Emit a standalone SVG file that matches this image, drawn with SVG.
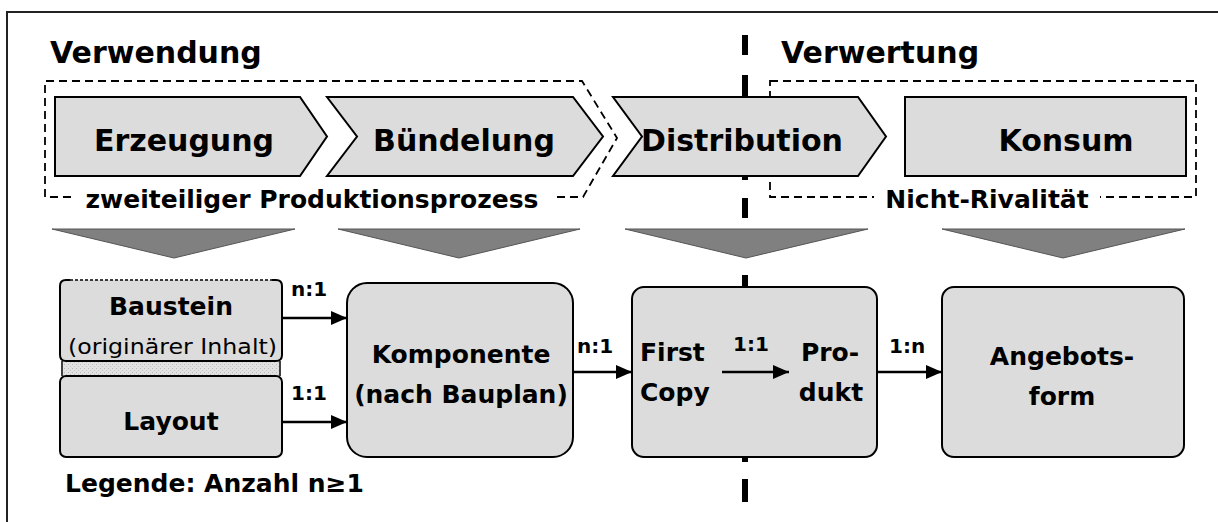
<svg xmlns="http://www.w3.org/2000/svg" width="1218" height="522" viewBox="0 0 1218 522">
<style>
  .t { font-family: "DejaVu Sans", Verdana, sans-serif; font-weight: bold; fill: #000; }
  .h { font-size: 30px; }
  .m { font-size: 25px; }
  .s { font-size: 20px; }
  .r { font-family: "DejaVu Sans", Verdana, sans-serif; font-weight: normal; font-size: 22px; fill: #000; }
  .proc { fill: #dcdcdc; stroke: #000; stroke-width: 2; }
  .box { fill: #dcdcdc; stroke: #000; stroke-width: 2; }
  .tri { fill: #808080; stroke: #555; stroke-width: 1; }
  .dash { fill: none; stroke: #000; stroke-width: 1.8; stroke-dasharray: 8 5; }
  .div { stroke: #000; stroke-width: 6; }
  .conn { stroke: #000; stroke-width: 2.4; fill: none; }
</style>
<defs>
  <marker id="ah" markerUnits="userSpaceOnUse" markerWidth="16" markerHeight="16" viewBox="0 0 16 16" refX="16" refY="8" orient="auto">
    <path d="M0,1 L16,8 L0,15 Z" fill="#000"/>
  </marker>
  <pattern id="speck" patternUnits="userSpaceOnUse" width="4" height="4">
    <rect width="4" height="4" fill="#e2e2e2"/>
    <rect x="0" y="0" width="1" height="1" fill="#b8b8b8"/>
    <rect x="2" y="2" width="1" height="1" fill="#c4c4c4"/>
  </pattern>
</defs>
<rect x="0" y="0" width="1218" height="522" fill="#fff"/>
<rect x="7" y="12" width="1240" height="540" fill="none" stroke="#222" stroke-width="2"/>

<g id="divider">
  <line class="div" x1="745" y1="35" x2="745" y2="55"/>
  <line class="div" x1="745" y1="75" x2="745" y2="100"/>
  <line class="div" x1="745" y1="172" x2="745" y2="180"/>
  <line class="div" x1="745" y1="198" x2="745" y2="218"/>
  <line class="div" x1="745" y1="275" x2="745" y2="290"/>
  <line class="div" x1="745" y1="454" x2="745" y2="462"/>
  <line class="div" x1="745" y1="479" x2="745" y2="502"/>
</g>

<text class="t h" x="50" y="63">Verwendung</text>
<text class="t h" x="781" y="63">Verwertung</text>

<g id="group-verwendung">
  <path class="dash" d="M45,197 V81 H582 L617,138 L583,197 Z"/>
  <rect x="72" y="186" width="482" height="28" fill="#fff"/>
  <text class="t m" x="312" y="208" text-anchor="middle">zweiteiliger Produktionsprozess</text>
</g>
<g id="group-verwertung">
  <rect class="dash" x="770" y="81" width="426" height="116"/>
  <rect x="874" y="186" width="226" height="28" fill="#fff"/>
  <text class="t m" x="987" y="208" text-anchor="middle">Nicht-Rivalität</text>
</g>

<g id="erzeugung">
  <path class="proc" d="M55,97 H300 L327,136.5 L300,176 H55 Z"/>
  <text class="t h" x="184" y="151" text-anchor="middle">Erzeugung</text>
</g>
<g id="buendelung">
  <path class="proc" d="M327,97 H573 L603,136.5 L573,176 H327 L357,136.5 Z"/>
  <text class="t h" x="464" y="151" text-anchor="middle">Bündelung</text>
</g>
<g id="distribution">
  <path class="proc" d="M613,97 H858 L886,136.5 L858,176 H613 L642,136.5 Z"/>
  <text class="t h" x="742" y="151" text-anchor="middle">Distribution</text>
</g>
<g id="konsum">
  <rect class="proc" x="905" y="97" width="281" height="79"/>
  <text class="t h" x="1066" y="151" text-anchor="middle">Konsum</text>
</g>

<g id="triangles">
  <path class="tri" d="M52,229 H295 L174,258 Z"/>
  <path class="tri" d="M338,229 H580 L459,258 Z"/>
  <path class="tri" d="M625,229 H868 L746,258 Z"/>
  <path class="tri" d="M942,229 H1185 L1063,258 Z"/>
</g>

<g id="baustein">
  <rect x="63" y="361" width="216" height="15" fill="url(#speck)"/>
  <line x1="62" y1="361" x2="62" y2="376" stroke="#000" stroke-width="1.5"/>
  <line x1="280" y1="361" x2="280" y2="376" stroke="#000" stroke-width="1.5"/>
  <path d="M60,286 Q60,280 66,280 H276 Q282,280 282,286 V355 Q282,361 276,361 H66 Q60,361 60,355 Z" fill="#dcdcdc"/>
  <path d="M70,280 H66 Q60,280 60,286 V355 Q60,361 66,361 H276 Q282,361 282,355 V286 Q282,280 276,280 H272" fill="none" stroke="#000" stroke-width="2"/>
  <line x1="70" y1="280" x2="272" y2="280" stroke="#000" stroke-width="1.5" stroke-dasharray="3 2"/>
  <text class="t m" x="171" y="315" text-anchor="middle">Baustein</text>
  <text class="r" x="68" y="354" textLength="209" lengthAdjust="spacingAndGlyphs">(originärer Inhalt)</text>
</g>
<g id="layout">
  <rect class="box" x="60" y="376" width="222" height="81" rx="6"/>
  <text class="t m" x="171" y="430" text-anchor="middle">Layout</text>
</g>
<g id="komponente">
  <rect class="box" x="347" y="283" width="226" height="174" rx="20"/>
  <text class="t m" x="461" y="363" text-anchor="middle">Komponente</text>
  <text class="t m" x="461" y="403" text-anchor="middle">(nach Bauplan)</text>
</g>
<g id="firstcopy">
  <rect class="box" x="632" y="287" width="245" height="170" rx="12"/>
  <text class="t m" x="640" y="361">First</text>
  <text class="t m" x="640" y="401">Copy</text>
  <text class="t m" x="830" y="361" text-anchor="middle">Pro-</text>
  <text class="t m" x="831" y="401" text-anchor="middle">dukt</text>
</g>
<g id="angebotsform">
  <rect class="box" x="942" y="287" width="242" height="170" rx="12"/>
  <text class="t m" x="1062" y="365" text-anchor="middle">Angebots-</text>
  <text class="t m" x="1062" y="405" text-anchor="middle">form</text>
</g>

<g id="connectors">
  <line class="conn" x1="283" y1="318" x2="347" y2="318" marker-end="url(#ah)"/>
  <line class="conn" x1="283" y1="422" x2="347" y2="422" marker-end="url(#ah)"/>
  <line class="conn" x1="574" y1="372" x2="632" y2="372" marker-end="url(#ah)"/>
  <line class="conn" x1="722" y1="372" x2="789" y2="372" marker-end="url(#ah)"/>
  <line class="conn" x1="878" y1="372" x2="942" y2="372" marker-end="url(#ah)"/>
  <text class="t s" x="291" y="296">n:1</text>
  <text class="t s" x="291" y="400">1:1</text>
  <text class="t s" x="577" y="353">n:1</text>
  <text class="t s" x="733" y="351">1:1</text>
  <text class="t s" x="889" y="353">1:n</text>
</g>

<text class="t m" x="65" y="492">Legende: Anzahl n≥1</text>
</svg>
